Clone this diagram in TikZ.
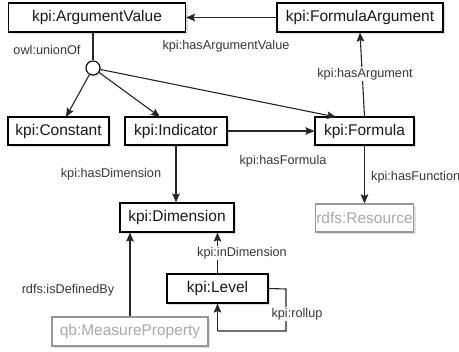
\documentclass[tikz,border=0pt]{standalone}
\usepackage{fontspec}
\setmainfont{Liberation Sans}
\usetikzlibrary{arrows.meta,shadows}
\definecolor{lbl}{RGB}{55,55,55}
\definecolor{boxtext}{RGB}{25,25,25}
\definecolor{ghostline}{RGB}{150,150,150}
\definecolor{ghosttext}{RGB}{170,170,170}
\tikzset{
  cls/.style={draw=black, line width=1.1pt, fill=white, text=boxtext,
    inner sep=0pt, font=\fontsize{15.5}{18}\selectfont,
    drop shadow={shadow xshift=2pt, shadow yshift=-2pt, fill=black!20, opacity=0.6}},
  ghost/.style={cls, draw=ghostline, text=ghosttext},
  conn/.style={line width=1.1pt, draw=black!85},
  arr/.style={conn, -{Stealth[length=9pt,width=7.5pt,inset=1.5pt]}},
  lab/.style={text=lbl, font=\fontsize{12.7}{15}\selectfont, inner sep=1pt}
}
\begin{document}
\begin{tikzpicture}[x=1pt,y=-1pt]
\useasboundingbox (0,0) rectangle (459,352);
% nodes
\node[cls, minimum width=177pt, minimum height=29pt] (av) at (97,17.5) {kpi:ArgumentValue};
\node[cls, minimum width=166pt, minimum height=29pt] (fa) at (360,17.5) {kpi:FormulaArgument};
\node[circle, draw=black, line width=1.1pt, fill=white, minimum size=14pt, inner sep=0pt,
      drop shadow={shadow xshift=2pt, shadow yshift=-2pt, fill=black!20, opacity=0.6}] (u) at (93,68) {};
\node[cls, minimum width=101pt, minimum height=28pt] (con) at (58.5,131) {kpi:Constant};
\node[cls, minimum width=102pt, minimum height=28pt] (ind) at (176,131) {kpi:Indicator};
\node[cls, minimum width=99pt, minimum height=28pt] (for) at (364.5,131) {kpi:Formula};
\node[cls, minimum width=114pt, minimum height=29pt] (dim) at (177,217.5) {kpi:Dimension};
\node[ghost, minimum width=98pt, minimum height=28pt] (res) at (364.5,218) {rdfs:Resource};
\node[cls, minimum width=101pt, minimum height=29pt] (lev) at (217.5,288.5) {kpi:Level};
\node[ghost, minimum width=156pt, minimum height=29pt] (mp) at (130,331.5) {qb:MeasureProperty};
% helper coordinates
\coordinate (r1) at (286,289);
\coordinate (r2) at (286,331);
\coordinate (r3) at (217.5,331);
% connectors
\draw[arr] (fa.west) -- (av.east);
\draw[conn] (av.south -| u) -- (u.north);
\draw[arr] (u) -- (66,117);
\draw[arr] (u) -- (160,117);
\draw[arr] (u) -- (336,117);
\draw[arr] (for.north) -- (fa.south);
\draw[arr] (ind.east) -- (for.west);
\draw[arr] (ind.south) -- (dim.north -| ind.south);
\draw[arr] (for.south) -- (res.north);
\draw[arr] (lev.north) -- (dim.south -| lev.north);
\draw[arr] (mp.north) -- (dim.south -| mp.north);
\draw[conn] (lev.east) -- (r1) -- (r2) -- (r3);
\draw[arr] (r3) -- (lev.south);
% labels
\node[lab] (l1) at (226,46) {kpi:hasArgumentValue};
\node[lab] (l2) at (47,50) {owl:unionOf};
\node[lab, fill=white] (l3) at (365,74) {kpi:hasArgument};
\node[lab] (l4) at (111,174) {kpi:hasDimension};
\node[lab] (l5) at (283,161) {kpi:hasFormula};
\node[lab, anchor=west] (l6) at (370,177) {kpi:hasFunction};
\node[lab, fill=white] (l7) at (242,253) {kpi:inDimension};
\node[lab] (l8) at (68,290) {rdfs:isDefinedBy};
\node[lab, fill=white] (l9) at (297,314) {kpi:rollup};
\end{tikzpicture}
\end{document}
